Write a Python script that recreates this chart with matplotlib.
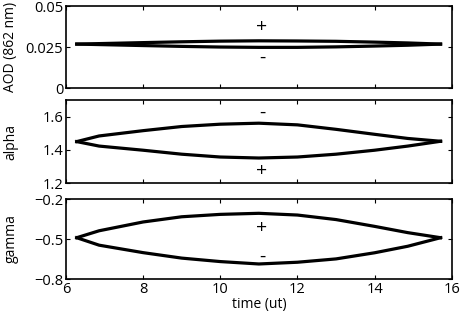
import matplotlib.pyplot as plt
import numpy as np

plt.rcParams['font.family'] = ['Open Sans', 'DejaVu Sans']
plt.rcParams['font.size'] = 10

# time (ut)
t = [6.28, 6.86, 8, 9, 10, 11, 12, 13, 14, 14.86, 15.71]

aod_up = [0.0268, 0.0271, 0.0277, 0.0282, 0.0286, 0.0288, 0.0287, 0.0285, 0.0280, 0.0275, 0.0268]
aod_lo = [0.0268, 0.0265, 0.0259, 0.0254, 0.0250, 0.0248, 0.0248, 0.0251, 0.0256, 0.0261, 0.0268]

alpha_up = [1.450, 1.484, 1.516, 1.541, 1.555, 1.561, 1.551, 1.524, 1.494, 1.469, 1.452]
alpha_lo = [1.450, 1.423, 1.398, 1.374, 1.357, 1.351, 1.357, 1.374, 1.398, 1.423, 1.452]

gamma_up = [-0.49, -0.438, -0.372, -0.333, -0.315, -0.307, -0.32, -0.354, -0.405, -0.452, -0.49]
gamma_lo = [-0.49, -0.546, -0.602, -0.643, -0.669, -0.687, -0.674, -0.649, -0.603, -0.554, -0.49]

fig = plt.figure(figsize=(4.61, 3.2), dpi=100)
ax1 = fig.add_axes([0.143, 0.725, 0.837, 0.256])
ax2 = fig.add_axes([0.143, 0.428, 0.837, 0.259])
ax3 = fig.add_axes([0.143, 0.128, 0.837, 0.250])

panels = [
    (ax1, aod_up, aod_lo, (0, 0.05), [0, 0.025, 0.05], ['0', '0.025', '0.05'], 'AOD (862 nm)',
     [('+', 0.0372), ('-', 0.0183)]),
    (ax2, alpha_up, alpha_lo, (1.2, 1.7), [1.2, 1.4, 1.6], ['1.2', '1.4', '1.6'], 'alpha',
     [('-', 1.625), ('+', 1.27)]),
    (ax3, gamma_up, gamma_lo, (-0.8, -0.2), [-0.8, -0.5, -0.2], ['\u22120.8', '\u22120.5', '\u22120.2'], 'gamma',
     [('+', -0.415), ('-', -0.635)]),
]

for ax, up, lo, ylim, yt, ytl, lab, marks in panels:
    ax.plot(t, up, color='black', linewidth=2.3, solid_joinstyle='round')
    ax.plot(t, lo, color='black', linewidth=2.3, solid_joinstyle='round')
    ax.set_xlim(6, 16)
    ax.set_ylim(*ylim)
    ax.set_yticks(yt)
    ax.set_yticklabels(ytl)
    ax.set_xticks([6, 8, 10, 12, 14, 16])
    ax.tick_params(direction='in', top=True, right=True, length=3, width=0.8, labelsize=10.5, pad=2)
    for s in ax.spines.values():
        s.set_linewidth(1.2)
    ax.set_ylabel(lab, fontsize=10)
    ax.yaxis.set_label_coords(-0.123, 0.5)
    for txt, yv in marks:
        ax.text(11.08, yv, txt, ha='center', va='center', fontsize=14)

ax1.set_xticklabels([])
ax2.set_xticklabels([])
ax3.set_xlabel('time (ut)', fontsize=10, labelpad=0)

fig.savefig('out.png', dpi=100)
